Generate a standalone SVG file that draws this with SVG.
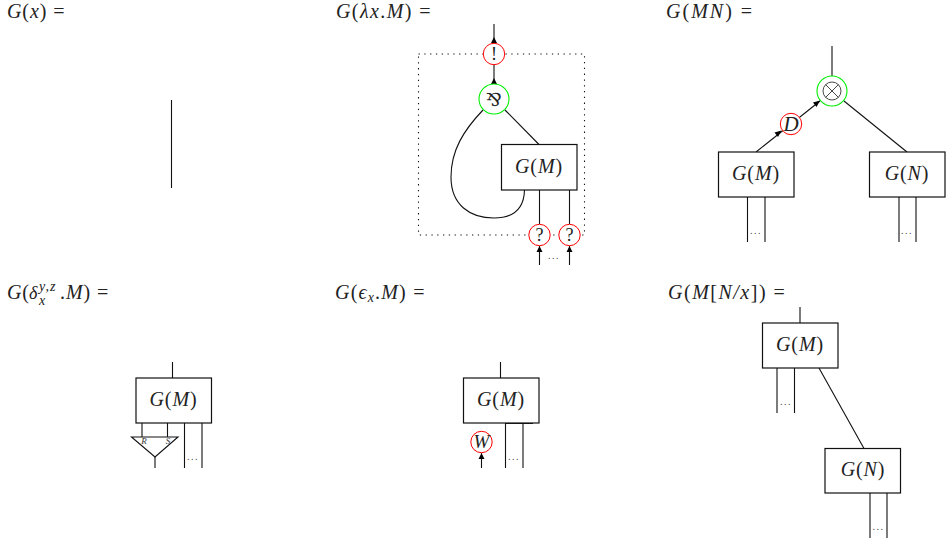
<svg xmlns="http://www.w3.org/2000/svg" width="946" height="542" viewBox="0 0 946 542">
<style>
text{font-family:"Liberation Serif","Times New Roman",serif;fill:#222;font-size:20px;letter-spacing:.9px}
.i{font-style:italic}
.c{text-anchor:middle}
.n{font-size:18px;letter-spacing:0;text-anchor:middle}
.t{font-size:21px;letter-spacing:0;font-style:italic;text-anchor:middle}
.s{font-size:14px;letter-spacing:1px}
.d{font-size:10px;letter-spacing:1.500px;text-anchor:middle;fill:#444}
.m{font-size:9px;letter-spacing:0;font-style:italic;text-anchor:middle;fill:#333}
.b{fill:#fff;stroke:#111;stroke-width:1.200}
.w{fill:none;stroke:#111;stroke-width:1.100}
.r{fill:#fff;stroke:#f00;stroke-width:1}
.g{fill:#fff;stroke:#0e0;stroke-width:1.100}
</style>

<g id="connectors">
<path class="w" d="M171.500 100V188"/>
<path class="w" d="M494 24V43"/>
<path class="w" d="M494 64.500V84"/>
<path class="w" d="M483 110C464 130 451 150 451 177C451 205 470 218 494 218C515 218 524 207 524.500 190"/>
<path class="w" d="M505 110L539 144.500"/>
<path class="w" d="M539.500 190V224M569.500 190V224M539.500 246V265M569.500 246V265"/>
<path class="w" d="M832 46V76"/>
<path class="w" d="M820 101L756 152"/>
<path class="w" d="M844 101L907 152"/>
<path class="w" d="M747.500 197V242M765 197V242M899 197V242M916 197V242"/>
<path class="w" d="M172.500 362V378M142 423V437M167.500 423V437M155 457V468M184.500 423V468M202 423V468"/>
<path class="w" d="M500.500 362V378M505.500 423V468M523 423V468M481.500 453V468"/>
<path d="M505 423H533" stroke="#000" stroke-width="1.800" fill="none"/>
<path class="w" d="M800 307V323M777 368V413M794.500 368V413M819 368L864 448.500M870 493V538M887 493V538"/>
<path d="M494 37l-3 6h6zM494 78l-3 6h6zM539.500 246l-3 6h6zM569.500 246l-3 6h6zM481.500 453l-3 6h6zM820 100.500l-7 2l3.500 4.500zM781.500 130.500l-7 2l3.500 4.500z" fill="#000"/>
</g>

<g id="label-var"><text x="7" y="18"><tspan class="i">G</tspan>(<tspan class="i">x</tspan>) =</text></g>
<g id="label-lambda"><text x="336" y="18" style="letter-spacing:1.400px"><tspan class="i">G</tspan>(<tspan class="i">λx</tspan>.<tspan class="i">M</tspan>) =</text></g>
<g id="label-app"><text x="666" y="18" style="letter-spacing:2px"><tspan class="i">G</tspan>(<tspan class="i">MN</tspan>) =</text></g>
<g id="label-delta">
<text x="7" y="299"><tspan class="i">G</tspan>(</text>
<text x="29" y="299" class="i" style="font-size:18px;letter-spacing:0">δ</text>
<text x="39" y="291" class="i s">y,z</text>
<text x="39" y="305" class="i s">x</text>
<text x="60" y="299">.<tspan class="i">M</tspan>) =</text>
</g>
<g id="label-eps"><text x="335" y="299" style="letter-spacing:1.200px"><tspan class="i">G</tspan>(<tspan class="i">ϵ</tspan><tspan class="i s" dy="3">x</tspan><tspan dy="-3">.</tspan><tspan class="i">M</tspan>) =</text></g>
<g id="label-subst"><text x="668" y="299" style="letter-spacing:1.500px"><tspan class="i">G</tspan>(<tspan class="i">M</tspan>[<tspan class="i">N/x</tspan>]) =</text></g>

<g id="box-lambda">
<rect x="418.500" y="54" width="166" height="181" fill="none" stroke="#111" stroke-width="1.100" stroke-dasharray="1.300 4.500"/>
<rect class="b" x="501.500" y="144.500" width="75.500" height="45.500"/>
<text x="539" y="172.500" class="c"><tspan class="i">G</tspan>(<tspan class="i">M</tspan>)</text>
</g>
<g id="bang"><circle class="r" cx="494" cy="54" r="10.700"/><text x="494" y="60" class="n">!</text></g>
<g id="par"><circle class="g" cx="494" cy="99" r="15"/><text x="494" y="105.500" class="c" style="font-family:'DejaVu Serif','DejaVu Sans',serif;font-size:18px;letter-spacing:0">⅋</text></g>
<g id="why1"><circle class="r" cx="539.500" cy="235" r="10.700"/><text x="539.500" y="241" class="n">?</text></g>
<g id="why2"><circle class="r" cx="569.500" cy="235" r="10.700"/><text x="569.500" y="241" class="n">?</text></g>
<text x="554" y="259" class="d">...</text>

<g id="tensor"><circle class="g" cx="832" cy="91" r="15"/><circle cx="832" cy="91" r="9" fill="none" stroke="#333" stroke-width=".9"/><path d="M825.600 84.600L838.400 97.400M838.400 84.600L825.600 97.400" stroke="#333" stroke-width=".9" fill="none"/></g>
<g id="der"><circle class="r" cx="791" cy="124" r="10.700"/><text x="791" y="131" class="t">D</text></g>
<g id="box-m2"><rect class="b" x="718.500" y="152" width="75.500" height="45"/><text x="756" y="179.500" class="c"><tspan class="i">G</tspan>(<tspan class="i">M</tspan>)</text></g>
<g id="box-n2"><rect class="b" x="869.500" y="152" width="75.500" height="45"/><text x="907" y="179.500" class="c"><tspan class="i">G</tspan>(<tspan class="i">N</tspan>)</text></g>
<text x="756" y="234" class="d">...</text>
<text x="907" y="234" class="d">...</text>

<g id="box-delta"><rect class="b" x="136" y="378" width="75.500" height="45"/><text x="173.500" y="405.500" class="c"><tspan class="i">G</tspan>(<tspan class="i">M</tspan>)</text></g>
<g id="contract"><path d="M131.500 437H178L155 457Z" fill="none" stroke="#111" stroke-width="1.100"/><text x="144" y="444" class="m">R</text><text x="168" y="444" class="m">S</text></g>
<text x="193" y="460" class="d">...</text>

<g id="box-eps"><rect class="b" x="463.500" y="378" width="75.500" height="45"/><text x="501" y="405.500" class="c"><tspan class="i">G</tspan>(<tspan class="i">M</tspan>)</text></g>
<g id="weak"><circle class="r" cx="481.500" cy="442" r="10.700"/><text x="481.500" y="448" class="t" style="font-size:19px">W</text></g>
<text x="514" y="460" class="d">...</text>

<g id="box-m3"><rect class="b" x="762.500" y="323" width="75.500" height="45"/><text x="800" y="350.500" class="c"><tspan class="i">G</tspan>(<tspan class="i">M</tspan>)</text></g>
<g id="box-n3"><rect class="b" x="825" y="448.500" width="75.500" height="44.500"/><text x="863" y="476" class="c"><tspan class="i">G</tspan>(<tspan class="i">N</tspan>)</text></g>
<text x="786" y="405" class="d">...</text>
<text x="878.500" y="530" class="d">...</text>
</svg>
